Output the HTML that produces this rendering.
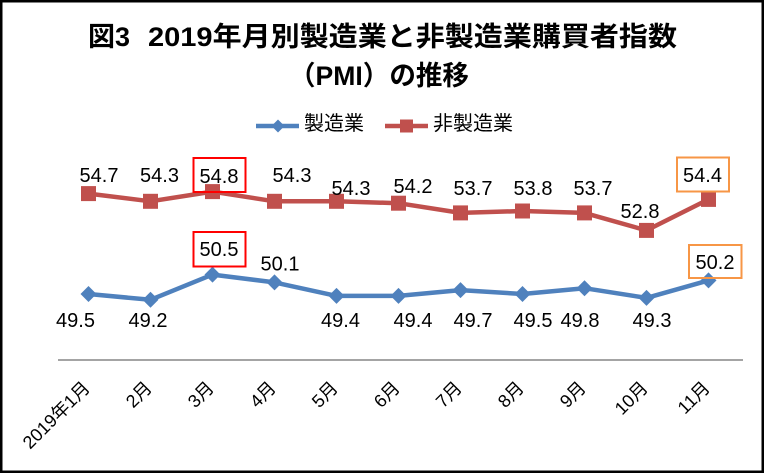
<!DOCTYPE html>
<html><head><meta charset="utf-8"><style>
html,body{margin:0;padding:0;background:#fff;}
svg{display:block;}
text{font-family:"Liberation Sans","Noto Sans CJK JP",sans-serif;}
</style></head><body>
<svg width="767" height="473" viewBox="0 0 767 473" xmlns="http://www.w3.org/2000/svg">
<rect x="0" y="0" width="767" height="473" fill="#fff"/>
<rect x="1.25" y="1.25" width="761.5" height="470.5" fill="none" stroke="#000" stroke-width="2.5"/>

<!-- Title -->
<text x="88" y="46" font-size="27" font-weight="bold">図</text>
<text x="115" y="46" font-size="27" font-weight="bold">3</text>
<text x="148" y="46" font-size="27" font-weight="bold" textLength="529" lengthAdjust="spacingAndGlyphs">2019年月別製造業と非製造業購買者指数</text>
<text x="289" y="85" font-size="27" font-weight="bold" textLength="180" lengthAdjust="spacingAndGlyphs">（PMI）の推移</text>

<!-- Legend -->
<line x1="256" y1="126" x2="299" y2="126" stroke="#4f81bd" stroke-width="4.5"/>
<polygon points="278,119.5 284.5,126 278,132.5 271.5,126" fill="#4f81bd"/>
<text x="304" y="130" font-size="20">製造業</text>
<line x1="385" y1="126" x2="428" y2="126" stroke="#c0504d" stroke-width="4.5"/>
<rect x="400" y="119.5" width="13" height="13" fill="#c0504d"/>
<text x="433" y="130" font-size="20">非製造業</text>

<!-- Axis -->
<line x1="58" y1="360" x2="743" y2="360" stroke="#868686" stroke-width="1.5"/>

<!-- Series: non-manufacturing (red) -->
<polyline fill="none" stroke="#c0504d" stroke-width="4.5" stroke-linejoin="round"
 points="88.5,193.6 150.5,201.3 212.5,191.6 274.5,201.3 336.5,201.3 398.5,203.2 460.5,212.9 522.5,211 584.5,212.9 646.5,230.4 708.5,199.4"/>
<g fill="#c0504d">
<rect x="81" y="186.1" width="15" height="15"/>
<rect x="143" y="193.8" width="15" height="15"/>
<rect x="205" y="184.1" width="15" height="15"/>
<rect x="267" y="193.8" width="15" height="15"/>
<rect x="329" y="193.8" width="15" height="15"/>
<rect x="391" y="195.7" width="15" height="15"/>
<rect x="453" y="205.4" width="15" height="15"/>
<rect x="515" y="203.5" width="15" height="15"/>
<rect x="577" y="205.4" width="15" height="15"/>
<rect x="639" y="222.9" width="15" height="15"/>
<rect x="701" y="191.9" width="15" height="15"/>
</g>

<!-- Series: manufacturing (blue) -->
<polyline fill="none" stroke="#4f81bd" stroke-width="4.5" stroke-linejoin="round"
 points="88.5,294 150.5,299.8 212.5,274.6 274.5,282.4 336.5,295.9 398.5,295.9 460.5,290.1 522.5,294 584.5,288.2 646.5,297.9 708.5,280.4"/>
<g fill="#4f81bd">
<polygon points="88.5,286 96.5,294 88.5,302 80.5,294"/>
<polygon points="150.5,291.8 158.5,299.8 150.5,307.8 142.5,299.8"/>
<polygon points="212.5,266.6 220.5,274.6 212.5,282.6 204.5,274.6"/>
<polygon points="274.5,274.4 282.5,282.4 274.5,290.4 266.5,282.4"/>
<polygon points="336.5,287.9 344.5,295.9 336.5,303.9 328.5,295.9"/>
<polygon points="398.5,287.9 406.5,295.9 398.5,303.9 390.5,295.9"/>
<polygon points="460.5,282.1 468.5,290.1 460.5,298.1 452.5,290.1"/>
<polygon points="522.5,286 530.5,294 522.5,302 514.5,294"/>
<polygon points="584.5,280.2 592.5,288.2 584.5,296.2 576.5,288.2"/>
<polygon points="646.5,289.9 654.5,297.9 646.5,305.9 638.5,297.9"/>
<polygon points="708.5,272.4 716.5,280.4 708.5,288.4 700.5,280.4"/>
</g>

<!-- Highlight boxes -->
<rect x="193.5" y="158" width="52" height="34" fill="none" stroke="#ff0000" stroke-width="2"/>
<rect x="193.5" y="232" width="52" height="34.5" fill="none" stroke="#ff0000" stroke-width="2"/>
<rect x="677" y="157.5" width="52" height="34" fill="none" stroke="#f79646" stroke-width="2"/>
<rect x="689" y="245" width="52.5" height="33" fill="none" stroke="#f79646" stroke-width="2"/>

<!-- Data labels -->
<g font-size="20" text-anchor="middle" fill="#000">
<text x="99" y="182">54.7</text>
<text x="159.5" y="182">54.3</text>
<text x="219" y="183">54.8</text>
<text x="292" y="182">54.3</text>
<text x="351" y="195">54.3</text>
<text x="413" y="193">54.2</text>
<text x="473" y="195">53.7</text>
<text x="533" y="195">53.8</text>
<text x="593" y="195">53.7</text>
<text x="640" y="218">52.8</text>
<text x="702.5" y="182">54.4</text>

<text x="75.5" y="327">49.5</text>
<text x="148" y="327">49.2</text>
<text x="219" y="256">50.5</text>
<text x="280" y="270.5">50.1</text>
<text x="340.5" y="327">49.4</text>
<text x="413" y="327">49.4</text>
<text x="473" y="327">49.7</text>
<text x="533" y="327">49.5</text>
<text x="580" y="327">49.8</text>
<text x="652" y="327">49.3</text>
<text x="715" y="269">50.2</text>
</g>

<!-- X axis labels -->
<g font-size="18" text-anchor="end" fill="#000">
<text transform="translate(91,389) rotate(-45)">2019年1月</text>
<text transform="translate(153,389) rotate(-45)">2月</text>
<text transform="translate(215,389) rotate(-45)">3月</text>
<text transform="translate(277,389) rotate(-45)">4月</text>
<text transform="translate(339,389) rotate(-45)">5月</text>
<text transform="translate(401,389) rotate(-45)">6月</text>
<text transform="translate(463,389) rotate(-45)">7月</text>
<text transform="translate(525,389) rotate(-45)">8月</text>
<text transform="translate(587,389) rotate(-45)">9月</text>
<text transform="translate(649,389) rotate(-45)">10月</text>
<text transform="translate(711,389) rotate(-45)">11月</text>
</g>
</svg>
</body></html>
